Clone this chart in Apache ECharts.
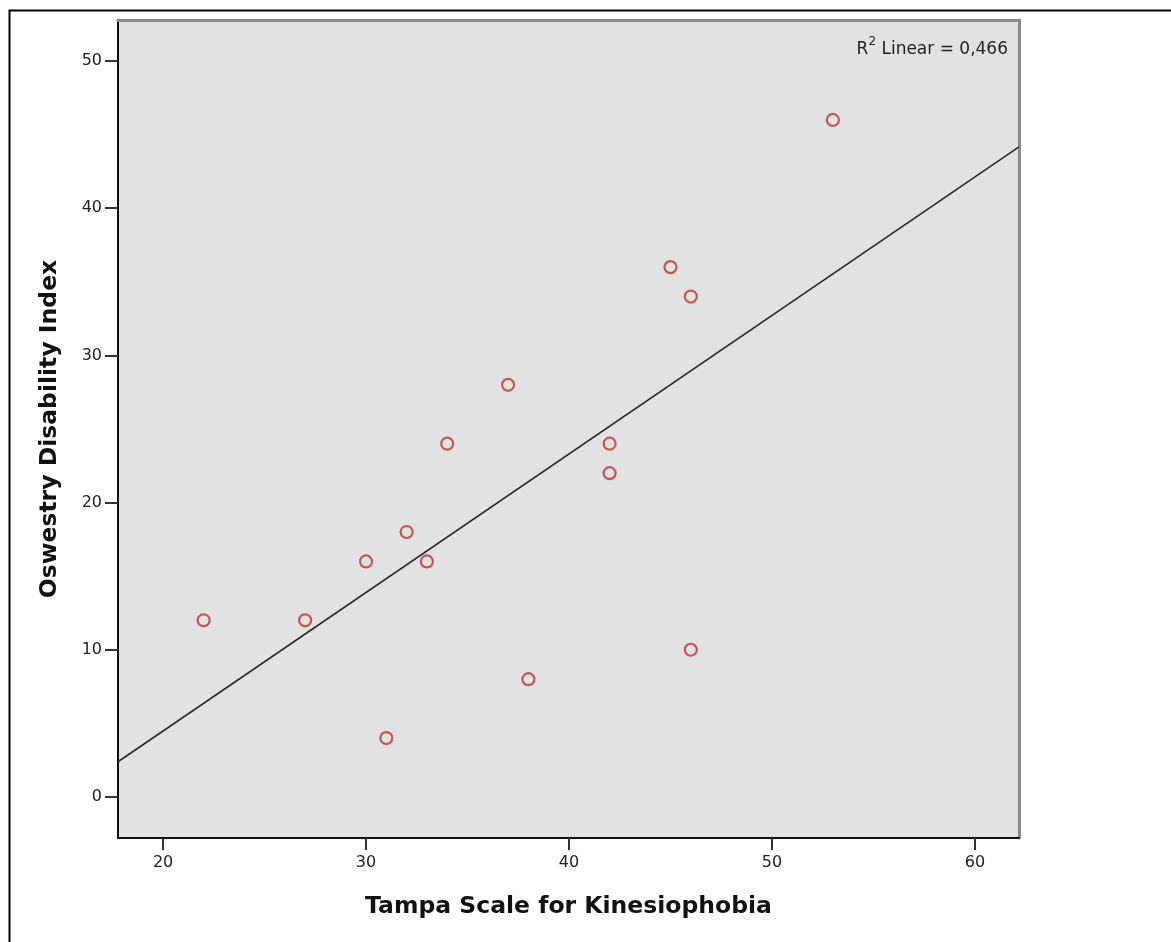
<!DOCTYPE html>
<html>
<head>
<meta charset="utf-8">
<script src="https://cdn.jsdelivr.net/npm/echarts@6/dist/echarts.min.js"></script>
<style>
html,body{margin:0;padding:0;background:#fff;}
#chart{width:1171px;height:942px;}
</style>
</head>
<body>
<div id="chart"></div>
<script>
// Data
const tampa = [22, 27, 30, 31, 32, 33, 34, 37, 38, 42, 42, 45, 46, 46, 53];
const oswestry = [12, 12, 16, 4, 18, 16, 24, 28, 8, 24, 22, 36, 34, 10, 46];
const xTicks = [20, 30, 40, 50, 60];
const yTicks = [0, 10, 20, 30, 40, 50];
const xTitle = 'Tampa Scale for Kinesiophobia';
const yTitle = 'Oswestry Disability Index';

const xMin = 17.78, xMax = 62.17, yMin = -2.79, yMax = 52.79;

// Linear fit
const n = tampa.length;
const mx = tampa.reduce((a, b) => a + b, 0) / n;
const my = oswestry.reduce((a, b) => a + b, 0) / n;
let sxy = 0, sxx = 0, syy = 0;
for (let i = 0; i < n; i++) {
  sxy += (tampa[i] - mx) * (oswestry[i] - my);
  sxx += (tampa[i] - mx) ** 2;
  syy += (oswestry[i] - my) ** 2;
}
const slope = sxy / sxx;
const icpt = my - slope * mx;
const r2 = (sxy * sxy) / (sxx * syy);
const fitLine = [[xMin, icpt + slope * xMin], [xMax, icpt + slope * xMax]];

const points = tampa.map((x, i) => [x, oswestry[i]]);
const FONT = 'DejaVu Sans';

const chart = echarts.init(document.getElementById('chart'), null, {renderer: 'canvas'});
chart.setOption({
  animation: false,
  backgroundColor: '#fff',
  grid: {left: 118, top: 20, right: 152, bottom: 104, show: true, backgroundColor: '#e2e2e2', borderWidth: 0},
  xAxis: [{
    type: 'value', min: xMin, max: xMax, position: 'bottom',
    name: xTitle, nameLocation: 'middle', nameGap: 57,
    nameTextStyle: {fontFamily: FONT, fontWeight: 'bold', fontSize: 23.5, color: '#111'},
    axisLine: {show: true, onZero: false, lineStyle: {color: '#111', width: 2}},
    axisTick: {show: true, inside: false, length: 12, customValues: xTicks, lineStyle: {color: '#333', width: 2}},
    axisLabel: {customValues: xTicks, fontFamily: FONT, fontSize: 16, color: '#222', margin: 17},
    splitLine: {show: false}
  }, {
    type: 'value', min: xMin, max: xMax, position: 'top',
    axisLine: {show: true, onZero: false, lineStyle: {color: '#8a8a8a', width: 3}},
    axisTick: {show: false}, axisLabel: {show: false}, splitLine: {show: false}
  }],
  yAxis: [{
    type: 'value', min: yMin, max: yMax, position: 'left',
    name: yTitle, nameLocation: 'middle', nameGap: 56, nameRotate: 90,
    nameTextStyle: {fontFamily: FONT, fontWeight: 'bold', fontSize: 23.5, color: '#111'},
    axisLine: {show: true, onZero: false, lineStyle: {color: '#111', width: 2}},
    axisTick: {show: true, inside: false, length: 13, customValues: yTicks, lineStyle: {color: '#333', width: 2}},
    axisLabel: {customValues: yTicks, fontFamily: FONT, fontSize: 16, color: '#222', margin: 16},
    splitLine: {show: false}
  }, {
    type: 'value', min: yMin, max: yMax, position: 'right',
    axisLine: {show: true, onZero: false, lineStyle: {color: '#8a8a8a', width: 3}},
    axisTick: {show: false}, axisLabel: {show: false}, splitLine: {show: false}
  }],
  series: [{
    type: 'line', data: fitLine, xAxisIndex: 0, yAxisIndex: 0,
    symbol: 'none', lineStyle: {color: '#2a2a2a', width: 1.6}, z: 3
  }, {
    type: 'scatter', data: points, xAxisIndex: 0, yAxisIndex: 0,
    symbol: 'circle', symbolSize: 12,
    itemStyle: {color: 'rgba(0,0,0,0)', borderColor: '#bd3232', borderWidth: 2.2}, z: 4
  }],
  graphic: [{
    type: 'rect', left: 7, top: 8, z: 100,
    shape: {width: 1300, height: 1100},
    style: {fill: 'none', stroke: '#000', lineWidth: 2}
  }, {
    type: 'text', right: 1171 - 1008, top: 36, z: 100,
    style: {
      text: '{n|R}{s|2}{n| Linear = ' + r2.toFixed(3).replace('.', ',') + '}',
      rich: {
        n: {fontFamily: FONT, fontSize: 17, fill: '#222', verticalAlign: 'bottom', lineHeight: 22},
        s: {fontFamily: FONT, fontSize: 12, fill: '#222', verticalAlign: 'top', lineHeight: 22, padding: [0, 0, 8, 0]}
      }
    }
  }]
});
</script>
</body>
</html>
